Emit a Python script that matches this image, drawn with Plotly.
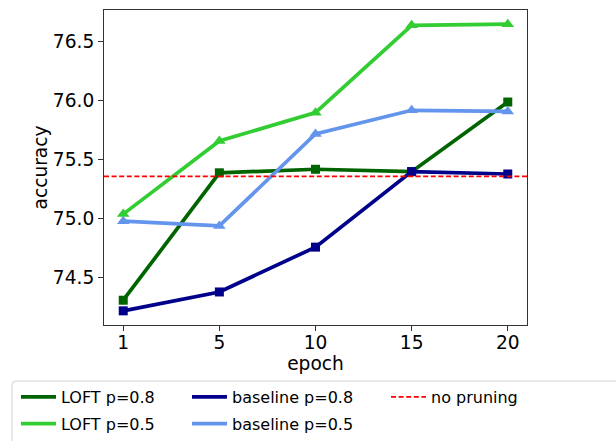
import plotly.graph_objects as go

# ---- data ----
epochs = ["1", "5", "10", "15", "20"]
loft_p08 = [74.31, 75.39, 75.42, 75.40, 75.99]
loft_p05 = [75.04, 75.66, 75.90, 76.64, 76.65]
base_p08 = [74.22, 74.38, 74.76, 75.40, 75.38]
base_p05 = [74.98, 74.94, 75.72, 75.92, 75.91]
no_pruning = 75.36
y_ticks = [74.5, 75.0, 75.5, 76.0, 76.5]

FONT = "DejaVu Sans"
FS = 18.6
LFS = 16
W, H = 616, 441
L, R, T, B = 104, 89, 10, 116
PW, PH = W - L - R, H - T - B


def px_x(px):
    return (px - L) / PW


def px_y(py):
    return (H - B - py) / PH


series = [
    ("LOFT p=0.8", loft_p08, "#006400", "square", 9, "legend"),
    ("LOFT p=0.5", loft_p05, "#32CD32", "triangle-up", 11, "legend"),
    ("baseline p=0.8", base_p08, "#00008B", "square", 9, "legend2"),
    ("baseline p=0.5", base_p05, "#6495ED", "triangle-up", 11, "legend2"),
]

fig = go.Figure()
for name, vals, color, sym, msize, leg in series:
    fig.add_trace(go.Scatter(
        x=epochs, y=vals, mode="lines", name=name, legend=leg, legendgroup=name,
        line=dict(color=color, width=3.7),
    ))
    fig.add_trace(go.Scatter(
        x=epochs, y=vals, mode="markers", showlegend=False, hoverinfo="skip",
        marker=dict(color=color, symbol=sym, size=msize, line=dict(width=0)),
    ))

# no pruning reference line
fig.add_shape(
    type="line", xref="paper", yref="y", x0=0, x1=1, y0=no_pruning, y1=no_pruning,
    line=dict(color="#FF0000", width=1.6, dash="5px,2.6px"), layer="above",
    showlegend=True, legend="legend3", name="no pruning",
)

# legend frame (matplotlib-style, extends past figure edge)
x0, y0 = px_x(12), px_y(381)
x1, y1 = px_x(640), px_y(470)
rx, ry = 4 / PW, 4 / PH
path = (f"M {x0 + rx},{y0} L {x1},{y0} L {x1},{y1} L {x0},{y1} "
        f"L {x0},{y0 - ry} Q {x0},{y0} {x0 + rx},{y0} Z")
fig.add_shape(type="path", xref="paper", yref="paper", path=path,
              line=dict(color="#D0D0D0", width=1), fillcolor="white", layer="below")

leg_common = dict(
    orientation="v", xanchor="left", yanchor="top",
    bgcolor="rgba(0,0,0,0)", borderwidth=0,
    font=dict(family=FONT, size=LFS, color="black"),
    itemwidth=35, tracegroupgap=3, traceorder="grouped",
)

fig.update_layout(
    width=W, height=H,
    margin=dict(l=L, r=R, t=T, b=B, pad=0, autoexpand=False),
    paper_bgcolor="white", plot_bgcolor="white",
    font=dict(family=FONT, size=FS, color="black"),
    showlegend=True,
    legend=dict(x=px_x(16), y=px_y(380), **leg_common),
    legend2=dict(x=px_x(187), y=px_y(380), **leg_common),
    legend3=dict(x=px_x(386), y=px_y(380), **leg_common),
    xaxis=dict(
        type="category", range=[-0.2, 4.2], automargin=False,
        showline=True, mirror=True, linecolor="#333333", linewidth=1,
        ticks="outside", ticklen=5, tickcolor="#333333", showgrid=False, zeroline=False,
        ticklabelstandoff=-4,
        title=dict(text="epoch", standoff=0, font=dict(family=FONT, size=FS)),
        tickfont=dict(family=FONT, size=FS, color="black"),
    ),
    yaxis=dict(
        range=[74.10, 76.77], tickvals=y_ticks, tickformat=".1f", automargin=False,
        showline=True, mirror=True, linecolor="#333333", linewidth=1,
        ticks="outside", ticklen=5, tickcolor="#333333", showgrid=False, zeroline=False,
        title=dict(text="accuracy", standoff=0, font=dict(family=FONT, size=FS)),
        tickfont=dict(family=FONT, size=FS, color="black"),
    ),
)

fig.write_html("out.html", config={"displayModeBar": False},
               post_script="document.body.style.margin='0px';")
